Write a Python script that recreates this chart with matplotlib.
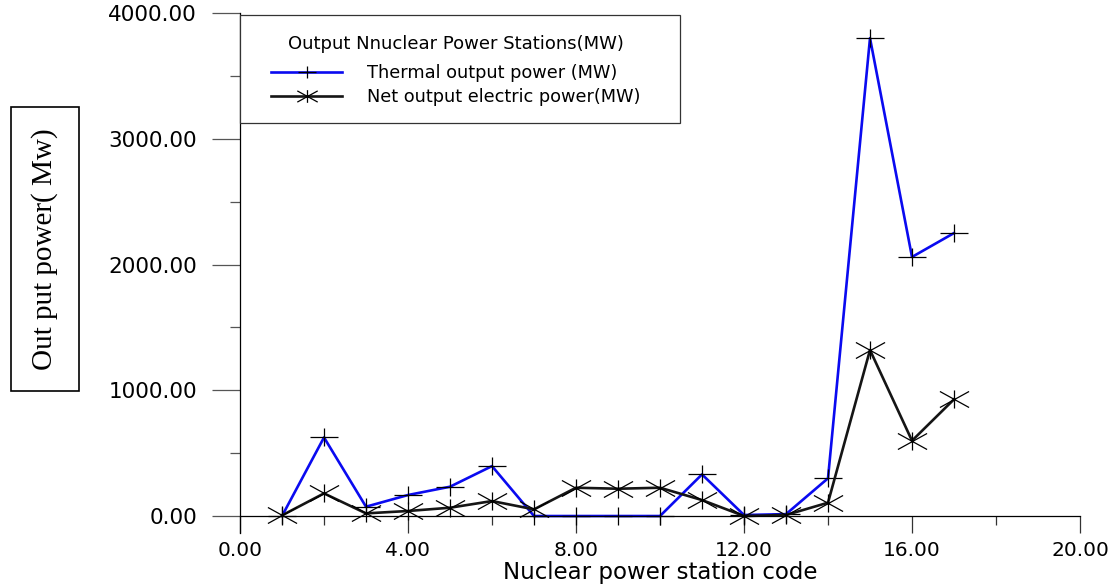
import matplotlib
matplotlib.use('Agg')
import matplotlib.pyplot as plt
from matplotlib.path import Path
from matplotlib.patches import Rectangle
from matplotlib.ticker import MultipleLocator, FormatStrFormatter

# station codes and outputs (MW)
codes = [1, 2, 3, 4, 5, 6, 7, 8, 9, 10, 11, 12, 13, 14, 15, 16, 17]
thermal = [0, 625, 74, 167, 233, 397, 0, 0, 0, 0, 331, 8, 15, 300, 3800, 2060, 2250]
net = [5, 180, 21, 40, 66, 119, 53, 225, 217, 225, 127, 0, 8, 106, 1320, 599, 928]

x_ticks = [0, 4, 8, 12, 16, 20]
y_ticks = [0, 1000, 2000, 3000, 4000]

# flattened plus and asterisk markers like the original plot
M, L = Path.MOVETO, Path.LINETO
plus_mk = Path([(-1, 0), (1, 0), (0, -0.63), (0, 0.63)], [M, L, M, L])
star_mk = Path([(0, -0.62), (0, 0.62), (-1, -0.55), (1, 0.55), (-1, 0.55), (1, -0.55)],
               [M, L, M, L, M, L])

W, H = 1115, 585
fig = plt.figure(figsize=(W / 100, H / 100), dpi=100)
ax = fig.add_axes([240 / W, 1 - 533 / H, 840 / W, 520 / H])

ax.plot(codes, thermal, color='#0a0af0', lw=1.9, marker=plus_mk, ms=19.5,
        mec='black', mew=0.9, label='Thermal output power (MW)')
ax.plot(codes, net, color='#151515', lw=1.9, marker=star_mk, ms=21,
        mec='black', mew=0.9, label='Net output electric power(MW)')

ax.set_xlim(0, 20)
ax.spines['top'].set_visible(False)
ax.spines['right'].set_visible(False)
ax.spines['bottom'].set_position(('data', 0))
for s in ax.spines.values():
    s.set_linewidth(0.9)

ax.set_xticks(x_ticks)
ax.xaxis.set_minor_locator(MultipleLocator(2))
ax.set_yticks(y_ticks)
ax.yaxis.set_minor_locator(MultipleLocator(500))
ax.xaxis.set_major_formatter(FormatStrFormatter('%.2f'))
ax.yaxis.set_major_formatter(FormatStrFormatter('%.2f'))
ax.set_ylim(-135, 4000)

ax.tick_params(axis='x', which='major', direction='out', length=12, width=0.9,
               color='#333333', pad=6, labelsize=14.5)
ax.tick_params(axis='x', which='minor', direction='out', length=6.5, width=0.9,
               color='#333333')
ax.tick_params(axis='y', which='major', direction='out', length=20, width=0.9,
               color='#555555', pad=11, labelsize=15.5)
ax.tick_params(axis='y', which='minor', direction='out', length=7, width=0.9,
               color='#555555')

fig.text(660 / W, 1 - 573 / H, 'Nuclear power station code', ha='center',
         va='center', fontsize=16.5)

fig.text(45 / W, 1 - 249 / H, 'Out put power( Mw)', rotation=90,
         ha='center', va='center', fontsize=21, family='Liberation Serif',
         bbox=dict(boxstyle='square,pad=0.72', fc='white', ec='black', lw=1.2))

# legend box drawn separately, legend content placed inside it
ax.add_patch(Rectangle((240 / W, 1 - 123 / H), 440 / W, 108 / H,
                       transform=fig.transFigure, fc='white', ec='#333333',
                       lw=0.9, zorder=4, clip_on=False))
leg = ax.legend(loc='upper left', bbox_to_anchor=(271 / W, 1 - 35 / H),
                bbox_transform=fig.transFigure, borderaxespad=0, borderpad=0,
                title='Output Nnuclear Power Stations(MW)', title_fontsize=13,
                fontsize=12.8, handlelength=4.0, handletextpad=1.4,
                labelspacing=0.35, frameon=False, markerscale=0.7)
leg._legend_box.sep = 8
leg.set_zorder(5)

fig.savefig('out.png', dpi=100)
